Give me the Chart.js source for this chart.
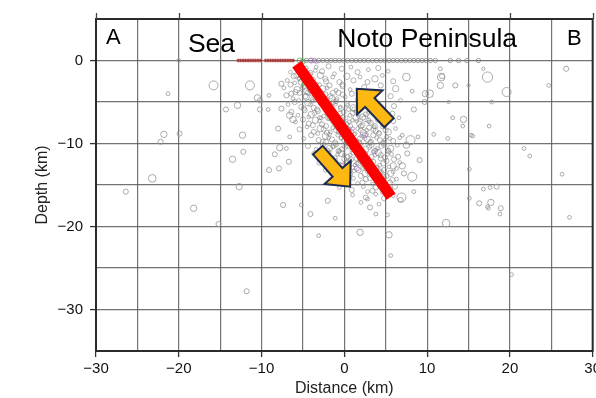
<!DOCTYPE html>
<html><head><meta charset="utf-8">
<script src="https://cdn.jsdelivr.net/npm/chart.js@4.4.1/dist/chart.umd.min.js"></script>
<style>
html,body{margin:0;padding:0;overflow:hidden;background:#fff;width:596px;height:398px}
#wrap{position:absolute;left:0;top:0;width:604px;height:398px}
</style>
</head><body><div id="wrap"><canvas id="c" width="604" height="398"></canvas></div>
<script>
// ---- data: [distance km, elevation km (negative = depth), magnitude-like size] ----
const sparseQuakes = [
 [-15.8,-3.0,3],[-11.4,-3.0,3],[-21.3,-4.0,1],[-10.5,-4.5,2],[-10.2,-4.8,1.5],[-12.9,-5.4,2],[-14.3,-5.9,1.5],
 [-10.2,-5.9,1.5],[-9.1,-4.2,1],[-9.2,-5.9,1],[-7.6,-5.8,1.5],[-7.6,-2.8,1.5],[-6.4,-4.0,1.5],[-6.6,-6.6,2],
 [-6.2,-7.1,2],[-21.8,-8.9,2],[-22.2,-9.8,1.5],[-19.9,-8.8,1.5],[-12.3,-9.0,2],[-8.0,-8.2,1.5],[-6.6,-9.2,1],
 [-7.8,-10.5,2],[-12.2,-11.0,1.5],[-13.5,-11.9,2],[-8.4,-11.3,1.5],[-7.0,-10.6,1],[-6.7,-12.2,1.5],[-7.9,-13.0,1.5],
 [-9.1,-13.2,1.5],[-23.2,-14.2,2.5],[-26.4,-15.8,1.5],[-12.7,-15.2,2],[-18.2,-17.8,2],[-7.4,-17.4,1.5],
 [-15.2,-19.7,1.5],[-20.0,0.0,1],
 [-5.2,-17.4,1],[-4.1,-18.5,1.5],[-2.0,-16.9,1.5],[-1.1,-19.0,1],[-3.1,-21.1,1],[1.9,-20.7,2],[3.1,-17.7,1.5],
 [2.8,-16.7,1],[3.8,-18.5,1],[5.2,-18.6,1],[5.4,-21.0,2],[5.6,-23.5,1],[6.8,-16.8,1.5],[12.3,-19.6,2.5],
 [16.3,-17.2,1.5],[17.7,-17.1,2],[17.4,-17.8,1],[18.9,-17.8,1.5],[20.2,-25.8,1],[27.2,-18.9,1],[-11.8,-27.8,1.5],
 [7.5,-2.0,2.5],[11.7,-2.0,2.5],[17.3,-2.0,3.5],[11.6,-1.0,1],[11.6,-3.0,2],[13.4,-3.0,1.5],[15.0,-3.0,0.8],
 [10.3,-4.0,2.5],[9.8,-4.0,2],[8.2,-3.7,1],[19.6,-3.8,3],[26.8,-1.0,1.5],[24.7,-3.0,1],[16.8,-1.0,0.8],
 [12.6,-5.0,0.8],[17.8,-5.0,1],[9.7,-5.0,1.5],[8.4,-5.9,1.5],[13.1,-6.9,1],[14.4,-7.1,2],[14.3,-7.9,1],
 [17.5,-7.9,1],[10.8,-8.9,1],[12.5,-9.4,1],[15.5,-9.1,1],[7.0,-9.0,1],[8.0,-9.6,3],[8.9,-9.2,1],[7.5,-10.2,2],
 [7.6,-11.2,1.5],[9.1,-12.0,1.5],[7.0,-12.7,2],[8.2,-14.0,3],[7.2,-13.6,1.5],[21.7,-10.6,1],[22.4,-11.5,1],
 [15.1,-13.1,1],[26.3,-13.7,1],[6.9,-16.5,3],[8.4,-15.8,1],[15.1,-16.6,1],[16.8,-15.5,1],[17.6,-15.3,1],
 [18.4,-15.2,1.5],[17.3,-17.6,1],[18.8,-18.5,1],[11.8,-1.9,1.5],[15.3,-9.0,1]
];
const clusterQuakes = [
 [-5.3,-1.2,1.5],[-4.6,-0.9,1],[-4.1,-1.5,1.5],[-3.4,-0.8,1],[-2.7,-1.3,1.5],[-1.9,-0.7,1.5],[-1.2,-1.6,1],
 [-0.3,-1.0,1.5],[0.8,-0.8,1],[1.6,-1.4,1.5],[2.9,-1.1,1],[4.1,-0.9,1.5],[5.3,-1.3,1],
 [-6.9,-2.4,1],[-6.1,-1.9,1.5],[-5.2,-2.6,2],[-4.4,-2.1,1.5],[-3.7,-2.7,1],[-2.9,-1.8,2],[-2.2,-2.5,1.5],
 [-1.4,-2.0,1],[-0.6,-2.6,1.5],[0.3,-1.9,2],[1.1,-2.4,1.5],[1.9,-2.0,1],[2.8,-2.6,1.5],[3.7,-2.2,2],[4.6,-1.8,1],[5.9,-2.5,1.5],
 [-7.3,-3.3,1],[-6.5,-2.9,1.5],[-5.7,-3.5,2],[-4.9,-3.1,1.5],[-4.2,-3.6,1],[-3.4,-2.9,1.5],[-2.6,-3.4,2],
 [-1.8,-3.0,1.5],[-1.0,-3.6,1],[-0.2,-3.1,1.5],[0.7,-3.5,1],[2.4,-3.2,1.5],[3.3,-3.7,1],[4.4,-3.0,1.5],[6.2,-3.4,2],
 [-7.0,-4.2,1.5],[-6.2,-4.6,1],[-5.4,-3.9,1.5],[-4.6,-4.4,2],[-3.9,-4.0,1.5],[-3.1,-4.7,1],[-2.3,-4.1,1.5],
 [-1.5,-4.6,2],[-0.7,-3.9,1.5],[0.1,-4.4,1],[0.9,-4.0,1.5],[1.6,-4.7,1],[5.6,-4.3,1.5],[6.8,-4.8,1],
 [-6.8,-5.3,1],[-6.0,-5.0,1.5],[-5.2,-5.6,1.5],[-4.4,-5.1,2],[-3.7,-5.7,1.5],[-2.9,-5.2,1],[-2.1,-5.5,2],
 [-1.3,-5.0,1.5],[-0.5,-5.6,1],[0.3,-5.2,1.5],[1.1,-5.7,2],[1.8,-5.1,1],[6.0,-5.5,1.5],
 [-6.4,-6.2,1.5],[-5.6,-6.6,1],[-4.8,-6.0,1.5],[-4.0,-6.5,2],[-3.2,-6.1,1.5],[-2.5,-6.7,1],[-1.7,-6.3,1.5],
 [-0.9,-6.8,2],[-0.1,-6.2,1.5],[0.7,-6.6,1],[1.5,-6.1,1.5],[2.2,-6.8,2],[2.9,-6.3,1],[5.8,-6.4,1.5],[6.6,-6.9,1],
 [-5.9,-7.4,1],[-5.0,-7.1,1.5],[-4.3,-7.6,1.5],[-3.5,-7.2,2],[-2.7,-7.7,1.5],[-2.0,-7.0,1],[-1.2,-7.5,1.5],
 [-0.5,-7.1,2],[0.3,-7.7,1.5],[1.0,-7.2,1],[1.8,-7.6,1.5],[2.5,-7.0,2],[3.2,-7.5,1.5],[4.0,-7.2,1],[4.8,-7.7,1.5],[5.9,-7.3,1.5],
 [-5.4,-8.3,1.5],[-4.5,-8.0,1],[-3.7,-8.6,1.5],[-2.9,-8.2,2],[-2.1,-8.7,1.5],[-1.4,-8.1,1],[-0.6,-8.5,2],
 [0.1,-8.0,1.5],[0.8,-8.6,1.5],[1.6,-8.2,1],[2.3,-8.7,2],[3.0,-8.1,1.5],[3.8,-8.5,1.5],[4.6,-8.0,1],[5.3,-8.6,2],[6.2,-8.2,1],
 [-4.9,-9.4,1],[-4.0,-9.0,1.5],[-3.1,-9.6,1.5],[-2.3,-9.1,2],[-1.5,-9.5,1.5],[-0.8,-9.0,1],[0.0,-9.6,1.5],
 [0.7,-9.2,2],[1.4,-9.7,1.5],[2.1,-9.1,1],[2.8,-9.5,2],[3.5,-9.0,1.5],[4.3,-9.6,1.5],[5.1,-9.2,1],[5.9,-9.7,1.5],[6.7,-9.3,1],
 [-4.4,-10.3,1.5],[-3.4,-10.7,1],[-2.6,-10.2,1.5],[-1.8,-10.6,2],[-1.0,-10.1,1.5],[-0.3,-10.7,1.5],[0.5,-10.2,2],
 [1.2,-10.6,1],[1.9,-10.1,1.5],[2.6,-10.7,2],[3.3,-10.2,1.5],[4.0,-10.6,1],[4.8,-10.1,1.5],[5.6,-10.6,2],[6.4,-10.2,1],
 [-3.7,-11.2,1],[-2.8,-11.6,1.5],[-1.9,-11.1,1.5],[-1.1,-11.7,1],[-0.4,-11.2,2],[0.4,-11.6,1.5],[1.1,-11.1,1.5],
 [1.9,-11.7,2],[2.6,-11.2,1],[3.3,-11.6,1.5],[4.1,-11.1,2],[4.9,-11.7,1.5],[5.7,-11.3,1],[6.5,-11.6,1.5],
 [-3.0,-12.3,1.5],[-2.0,-12.6,1],[-1.1,-12.1,1.5],[-0.3,-12.7,1.5],[0.5,-12.2,2],[1.3,-12.6,1],[2.0,-12.1,1.5],
 [2.8,-12.7,2],[3.5,-12.2,1.5],[4.3,-12.6,1],[5.1,-12.1,1.5],[5.9,-12.7,2],[6.7,-12.3,1],
 [-2.3,-13.2,1],[-1.2,-13.6,1.5],[-0.2,-13.1,1.5],[0.8,-13.7,1],[1.7,-13.2,1.5],[2.5,-13.6,2],[3.3,-13.1,1.5],
 [4.0,-13.7,1],[4.8,-13.2,1.5],[5.6,-13.6,2],[6.3,-13.0,1],
 [-1.6,-14.3,1],[-0.2,-14.6,1.5],[1.1,-14.2,1],[2.2,-14.7,1.5],[3.1,-14.2,1.5],[3.9,-14.6,1],[4.7,-14.1,2],[5.5,-14.7,1.5],[6.3,-14.3,1],
 [-0.6,-15.3,1],[0.9,-15.6,1.5],[2.3,-15.2,1],[3.4,-15.7,1.5],[4.3,-15.1,1.5],[5.2,-15.6,1],[6.1,-15.2,1.5],
 [1.0,-16.2,1],[2.6,-16.5,1.5],[3.8,-16.1,1],[4.8,-16.6,1.5],[5.9,-16.3,1],[2.0,-17.1,1],[4.2,-17.3,1],
 [-0.2,-6.9,1.5],[0.6,-7.4,1],[1.4,-6.9,2],[2.0,-7.9,1.5],[2.7,-8.4,1],[-0.9,-8.0,1.5],[0.4,-8.4,2],[1.2,-8.9,1],
 [1.9,-9.4,1.5],[3.1,-9.9,1.5],[-0.4,-9.3,1],[0.3,-9.9,1.5],[1.0,-10.4,2],[1.6,-10.9,1],[2.3,-11.4,1.5],[3.0,-11.9,1],
 [3.7,-10.9,1.5],[4.4,-11.4,1.5],[-1.4,-10.4,1],[-0.7,-10.9,1.5],[0.0,-11.4,1],[0.8,-11.9,1.5],[1.5,-12.4,1],
 [2.3,-12.9,1.5],[3.0,-13.4,1],[3.9,-12.9,1.5],[4.5,-13.4,1],[-2.2,-9.8,1.5],[-1.7,-8.6,1],[2.9,-7.2,1.5],
 [3.6,-8.0,1],[4.2,-8.8,1.5],[4.9,-9.6,1],[5.3,-10.9,1.5],[-3.0,-6.9,1],[-2.2,-5.9,1.5],[-3.8,-4.9,1],
 [-4.6,-3.7,1.5],[-5.5,-2.2,1],[-1.0,-4.9,1.5],[0.5,-5.9,1],[-0.2,-2.9,1.5]
];
const faultZoneQuakes = [
 [-6.5,-1.4,1],[-5.8,-1.8,1.5],[-5.0,-1.3,1],[-4.2,-1.7,1.5],[-3.5,-1.2,1],
 [-6.0,-2.7,1],[-5.3,-2.2,1.5],[-4.5,-2.8,1],[-3.8,-2.3,1.5],[-3.0,-2.9,1],[-2.3,-2.2,1.5],
 [-5.9,-3.8,1.5],[-5.1,-3.3,1],[-4.4,-3.9,1.5],[-3.6,-3.4,1],[-2.9,-3.8,1.5],[-2.1,-3.3,1],[-1.4,-3.9,1.5],
 [-5.5,-4.8,1],[-4.7,-4.3,1.5],[-3.9,-4.7,1],[-3.2,-4.2,1.5],[-2.4,-4.8,1],[-1.7,-4.3,1.5],[-0.9,-4.6,1],[-0.2,-4.1,1.5],
 [-4.9,-5.8,1.5],[-4.1,-5.3,1],[-3.3,-5.9,1.5],[-2.6,-5.4,1],[-1.9,-5.9,1.5],[-1.1,-5.3,1],[-0.4,-5.8,1.5],[0.4,-5.4,1],[1.2,-5.9,1.5],
 [-4.3,-6.8,1],[-3.6,-6.3,1.5],[-2.8,-6.9,1],[-2.0,-6.4,1.5],[-1.3,-6.9,1],[-0.5,-6.4,1.5],[0.2,-6.9,1],[1.0,-6.3,1.5],[1.8,-6.8,1],[2.6,-6.5,1.5],
 [-3.8,-7.8,1.5],[-3.0,-7.3,1],[-2.2,-7.9,1.5],[-1.5,-7.3,1],[-0.8,-7.8,1.5],[0.0,-7.4,1],[0.7,-7.9,1.5],[1.5,-7.3,1],[2.2,-7.8,1.5],[3.0,-7.4,1],[3.7,-7.9,1.5],
 [-3.2,-8.8,1],[-2.5,-8.3,1.5],[-1.8,-8.9,1],[-1.0,-8.4,1.5],[-0.2,-8.9,1],[0.5,-8.3,1.5],[1.3,-8.8,1],[2.0,-8.4,1.5],[2.7,-8.9,1],[3.5,-8.3,1.5],[4.2,-8.7,1],[5.0,-8.4,1.5],
 [-2.6,-9.8,1.5],[-1.9,-9.3,1],[-1.1,-9.9,1.5],[-0.4,-9.4,1],[0.3,-9.8,1.5],[1.0,-9.3,1],[1.8,-9.9,1.5],[2.5,-9.4,1],[3.2,-9.8,1.5],[3.9,-9.3,1],[4.7,-9.9,1.5],[5.5,-9.4,1],
 [-2.0,-10.8,1],[-1.3,-10.3,1.5],[-0.6,-10.9,1],[0.1,-10.4,1.5],[0.9,-10.8,1],[1.6,-10.3,1.5],[2.3,-10.9,1],[3.0,-10.4,1.5],[3.8,-10.8,1],[4.5,-10.3,1.5],[5.3,-10.8,1],
 [-1.5,-11.8,1.5],[-0.8,-11.3,1],[0.0,-11.9,1.5],[0.7,-11.4,1],[1.5,-11.8,1.5],[2.2,-11.3,1],[2.9,-11.9,1.5],[3.7,-11.4,1],[4.4,-11.8,1.5],[5.2,-11.3,1],[6.0,-11.9,1.5],
 [-0.6,-12.8,1],[0.2,-12.3,1.5],[1.0,-12.9,1],[1.7,-12.4,1.5],[2.4,-12.8,1],[3.2,-12.3,1.5],[3.9,-12.9,1],[4.7,-12.4,1.5],[5.4,-12.8,1],
 [0.4,-13.8,1.5],[1.2,-13.3,1],[2.0,-13.9,1.5],[2.8,-13.4,1],[3.5,-13.8,1.5],[4.3,-13.3,1],[5.1,-13.9,1.5],[5.9,-13.4,1],
 [1.6,-14.8,1],[2.6,-14.3,1.5],[3.4,-14.9,1],[4.2,-14.4,1.5],[5.0,-14.8,1],[5.8,-14.4,1.5],
 [2.8,-15.8,1],[3.8,-15.3,1.5],[4.6,-15.9,1],[5.5,-15.4,1.5]
];
const purpleQuakes = [[2.5,-9.0,1.5],[1.5,-13.0,1.5],[3.5,-11.0,1],[-0.5,-12.5,1],[4.2,-14.6,1.5],[-4.0,0.0,1.5],[-3.4,-0.1,1],[1.0,-8.2,1]];
const greenQuakes = [[-5.4,0.0,1.5],[-5.0,-0.1,1.5],[-4.9,-2.8,1],[-1.8,-7.0,1],[0.5,-9.5,1],[2.0,-12.0,1],[-3.2,-4.4,1]];
const surfaceX = [-4.6,-4.1,-3.6,-3.1,-2.6,-2.1,-1.6,-1.1,-0.6,-0.1,0.4,0.9,1.4,1.9,2.4,2.9,3.4,3.9,4.4,4.9,5.4,5.9,6.4,6.9,7.4,7.9,8.4,8.9,9.4,9.9,10.4,11.0,12.8,13.8,14.8,16.2];
const seaSurfaceX = [-12.8,-12.5,-12.2,-11.9,-11.6,-11.3,-11.0,-10.7,-10.4,-10.1,-9.5,-9.2,-8.9,-8.6,-8.3,-8.0,-7.7,-7.4,-7.1,-6.8,-6.5,-6.2];
const faultLine = [[-5.75,-0.45],[5.65,-16.4]];
const arrowUp = [[5.4,-7.5],[1.5,-3.4]];
const arrowDown = [[-3.2,-10.8],[0.7,-15.2]];
const xLabelValues = [-30,-20,-10,0,10,20,30];
const yLabelValues = [-30,-20,-10,0];
const regionLabels = [
  {text:'A', x:-28.8, y:1.95, size:22},
  {text:'Sea', x:-18.9, y:1.05, size:26.5},
  {text:'Noto Peninsula', x:-0.85, y:1.6, size:26.5},
  {text:'B', x:26.9, y:1.9, size:22}
];

const FONT = "'Liberation Sans', Arial, Helvetica, sans-serif";
const toPts = a => a.map(p => ({x:p[0], y:p[1]}));
const toR = a => a.map(p => 0.6 + p[2]*1.3);
const fmt = v => (v < 0 ? '\u2212' + Math.abs(v) : String(v));

function drawArrow(ctx, x1, y1, x2, y2) {
  const dx = x2 - x1, dy = y2 - y1, L = Math.hypot(dx, dy);
  const ux = dx / L, uy = dy / L, nx = -uy, ny = ux;
  const sw = 6.5, hw = 17.5, hl = 19;
  const bx = x2 - ux*hl, by = y2 - uy*hl;
  ctx.beginPath();
  ctx.moveTo(x1 + nx*sw, y1 + ny*sw);
  ctx.lineTo(bx + nx*sw, by + ny*sw);
  ctx.lineTo(bx + nx*hw, by + ny*hw);
  ctx.lineTo(x2, y2);
  ctx.lineTo(bx - nx*hw, by - ny*hw);
  ctx.lineTo(bx - nx*sw, by - ny*sw);
  ctx.lineTo(x1 - nx*sw, y1 - ny*sw);
  ctx.closePath();
  ctx.fillStyle = '#FDB812';
  ctx.fill();
  ctx.lineWidth = 2;
  ctx.lineJoin = 'miter';
  ctx.strokeStyle = '#1d2b4f';
  ctx.stroke();
}

const overlay = {
  id: 'overlay',
  afterDatasetsDraw(chart) {
    const ctx = chart.ctx, xs = chart.scales.x, ys = chart.scales.y;
    ctx.save();
    [arrowUp, arrowDown].forEach(a => {
      drawArrow(ctx, xs.getPixelForValue(a[0][0]), ys.getPixelForValue(a[0][1]),
                     xs.getPixelForValue(a[1][0]), ys.getPixelForValue(a[1][1]));
    });
    ctx.restore();
  },
  afterDraw(chart) {
    const ctx = chart.ctx, a = chart.chartArea, xs = chart.scales.x, ys = chart.scales.y;
    ctx.save();
    ctx.strokeStyle = '#2b2b2b';
    ctx.lineWidth = 2;
    ctx.strokeRect(a.left, a.top, a.right - a.left, a.bottom - a.top);
    ctx.lineWidth = 1.3;
    ctx.strokeStyle = '#444';
    xLabelValues.forEach(v => {
      const px = Math.round(xs.getPixelForValue(v)) + 0.5;
      ctx.beginPath(); ctx.moveTo(px, a.top - 6); ctx.lineTo(px, a.top); ctx.stroke();
    });
    ctx.fillStyle = '#000';
    ctx.textBaseline = 'alphabetic';
    ctx.textAlign = 'left';
    regionLabels.forEach(l => {
      ctx.font = l.size + 'px ' + FONT;
      ctx.fillText(l.text, xs.getPixelForValue(l.x), ys.getPixelForValue(l.y));
    });
    ctx.restore();
  }
};

const gridColor = 'rgba(90,90,90,0.85)';
const tickCol = list => c => (c.tick && list.includes(c.tick.value)) ? '#333' : 'rgba(0,0,0,0)';
const hollow = 'rgba(0,0,0,0)';

new Chart(document.getElementById('c'), {
  type: 'scatter',
  data: {
    datasets: [
      {label:'fault', type:'line', data: toPts(faultLine), borderColor:'#ff0000', borderWidth:11,
       borderCapStyle:'butt', pointRadius:0, order:0, fill:false},
      {label:'sparse', data: toPts(sparseQuakes), pointRadius: toR(sparseQuakes), pointBackgroundColor:hollow,
       pointBorderColor:'rgba(150,150,150,0.8)', pointBorderWidth:1, order:6},
      {label:'cluster', data: toPts(clusterQuakes), pointRadius: toR(clusterQuakes), pointBackgroundColor:hollow,
       pointBorderColor:'rgba(130,130,130,0.6)', pointBorderWidth:1, order:5},
      {label:'faultZone', data: toPts(faultZoneQuakes), pointRadius: toR(faultZoneQuakes), pointBackgroundColor:hollow,
       pointBorderColor:'rgba(130,130,130,0.55)', pointBorderWidth:1, order:4},
      {label:'purple', data: toPts(purpleQuakes), pointRadius: toR(purpleQuakes), pointBackgroundColor:hollow,
       pointBorderColor:'rgba(170,120,200,0.75)', pointBorderWidth:1, order:3},
      {label:'green', data: toPts(greenQuakes), pointRadius: toR(greenQuakes), pointBackgroundColor:hollow,
       pointBorderColor:'rgba(90,180,90,0.8)', pointBorderWidth:1, order:3},
      {label:'surface', data: surfaceX.map(x => ({x, y:0})), pointRadius:2.2, pointBackgroundColor:hollow,
       pointBorderColor:'rgba(130,130,130,0.75)', pointBorderWidth:1, order:3},
      {label:'seaSurface', data: seaSurfaceX.map(x => ({x, y:0})), pointRadius:1.8, pointBackgroundColor:'rgba(150,40,40,0.85)',
       pointBorderColor:'rgba(220,140,140,0.5)', pointBorderWidth:0.8, order:2}
    ]
  },
  options: {
    responsive: false,
    animation: false,
    devicePixelRatio: 1,
    layout: { padding: { left: 0, top: 19, right: 0, bottom: 0 } },
    plugins: { legend: { display: false }, tooltip: { enabled: false } },
    scales: {
      x: {
        type: 'linear', min: -30, max: 30,
        afterFit: s => { s.height = 47; },
        ticks: { stepSize: 5, autoSkip: false, maxRotation: 0, padding: 3, color: '#111',
                 font: { family: FONT, size: 15 },
                 callback: v => xLabelValues.includes(v) ? fmt(v) : '' },
        grid: { color: gridColor, lineWidth: 1.2, tickLength: 6, tickColor: tickCol(xLabelValues), tickWidth: 1.3 },
        border: { display: false },
        title: { display: true, text: 'Distance (km)', color: '#222', font: { family: FONT, size: 16 },
                 padding: { top: 0, bottom: 0 } }
      },
      y: {
        type: 'linear', min: -35, max: 5,
        afterFit: s => { s.width = 96; },
        ticks: { stepSize: 5, autoSkip: false, padding: 7, color: '#111',
                 font: { family: FONT, size: 15 },
                 callback: v => yLabelValues.includes(v) ? fmt(v) : '' },
        grid: { color: gridColor, lineWidth: 1.2, tickLength: 6, tickColor: tickCol(yLabelValues), tickWidth: 1.3 },
        border: { display: false },
        title: { display: true, text: 'Depth (km)', color: '#222', font: { family: FONT, size: 16 },
                 padding: { top: 33, bottom: 0 } }
      }
    }
  },
  plugins: [overlay]
});
</script></body></html>
